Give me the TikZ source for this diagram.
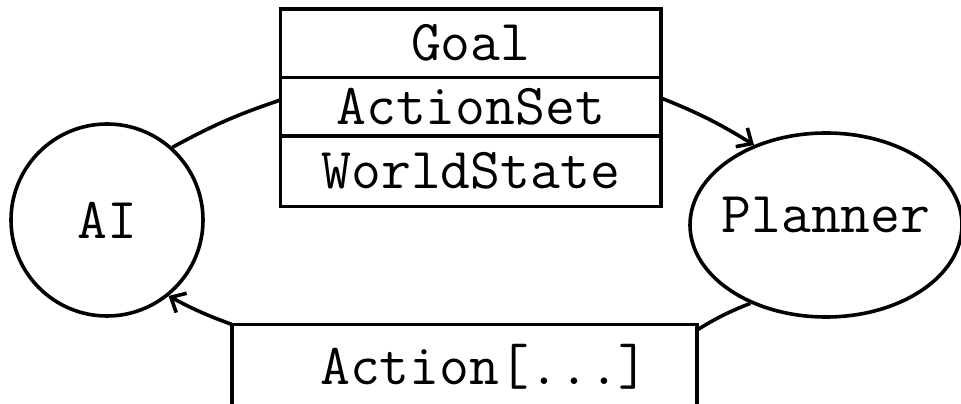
\documentclass[tikz,border=0pt]{standalone}
\usepackage{fontspec}
\usetikzlibrary{arrows.meta, positioning, shapes.geometric}

\tikzset{
  mono/.style={font=\ttfamily\fontsize{58}{66}\selectfont},
  field/.style={draw, mono, minimum width=380.5pt, inner sep=0pt, outer sep=0pt, anchor=north},
  barb/.style={-{Straight Barb[length=12pt,width=22pt]}},
}

\begin{document}
\begin{tikzpicture}[x=1pt, y=1pt, line width=3.6pt]
  \useasboundingbox (0,0) rectangle (961,404);
  \clip (0,0) rectangle (961,404);

  \node[mono, draw, circle, minimum size=192pt, inner sep=0pt] (ai) at (107,184) {AI};
  \node[mono, draw, ellipse, minimum width=272pt, minimum height=184pt, inner xsep=-30pt, inner ysep=0pt] (planner) at (826,179) {\raisebox{10pt}[\height][\depth]{Planner}};

  % request
  \node[field, minimum height=68.5pt] (goal) at (470.75,395) {Goal};
  \node[field, minimum height=58.5pt] (actionset) at (goal.south) {ActionSet};
  \node[field, minimum height=70.5pt] (worldstate) at (actionset.south) {WorldState};

  % result
  \node[draw, mono, minimum width=465pt, minimum height=84pt, inner sep=0pt, outer sep=0pt, anchor=north] (action) at (464.5,79.5) {\hspace*{40pt}Action[...]};

  \draw (ai.48) to[bend left=5] ([yshift=6.75pt]actionset.west);
  \draw[barb] ([yshift=8.75pt]actionset.east) to[bend left=5] (planner.132);
  \draw (planner.226) to[bend right=5] ([yshift=-5.5pt]action.north east);
  \draw[barb] (action.north west) to[bend left=4] (ai.309);
\end{tikzpicture}
\end{document}
